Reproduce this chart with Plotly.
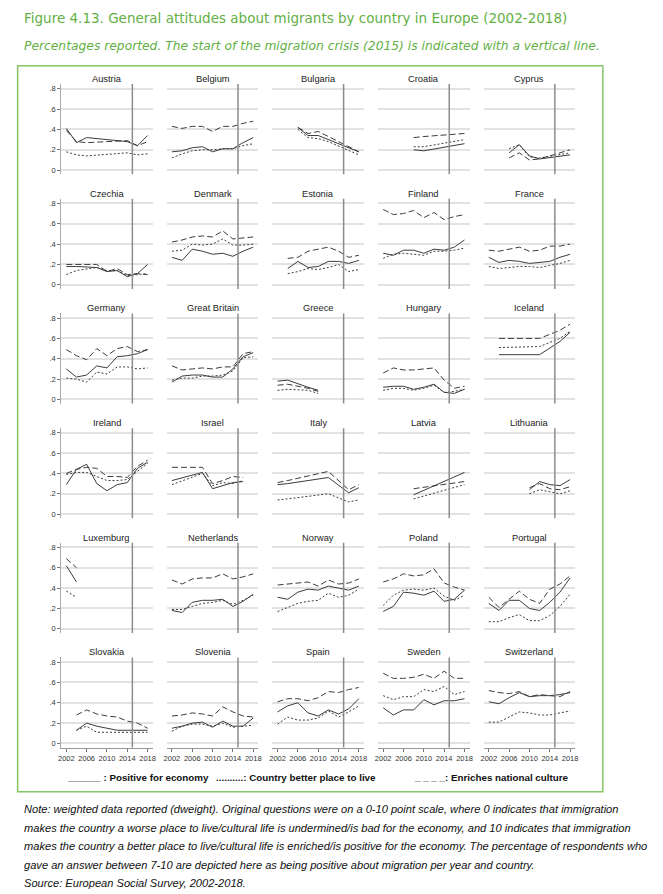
import plotly.graph_objects as go

# The page body has an 8px margin, so the figure is placed 8px in from the top-left.
OFF = 8
FW, FH = 663 - OFF, 894 - OFF

countries = ["Austria", "Belgium", "Bulgaria", "Croatia", "Cyprus",
             "Czechia", "Denmark", "Estonia", "Finland", "France",
             "Germany", "Great Britain", "Greece", "Hungary", "Iceland",
             "Ireland", "Israel", "Italy", "Latvia", "Lithuania",
             "Luxemburg", "Netherlands", "Norway", "Poland", "Portugal",
             "Slovakia", "Slovenia", "Spain", "Sweden", "Switzerland"]

ALL = [2002, 2004, 2006, 2008, 2010, 2012, 2014, 2016, 2018]

years = {
    "Austria": [2002, 2004, 2006, 2014, 2016, 2018],
    "Bulgaria": [2006, 2008, 2010, 2012, 2018],
    "Croatia": [2008, 2010, 2018],
    "Cyprus": [2006, 2008, 2010, 2012, 2018],
    "Czechia": [2002, 2004, 2008, 2010, 2012, 2014, 2016, 2018],
    "Estonia": [2004, 2006, 2008, 2010, 2012, 2014, 2016, 2018],
    "Greece": [2002, 2004, 2008, 2010],
    "Iceland": [2004, 2012, 2016, 2018],
    "Israel": [2002, 2008, 2010, 2012, 2014, 2016],
    "Italy": [2002, 2004, 2012, 2016, 2018],
    "Latvia": [2008, 2018],
    "Lithuania": [2010, 2012, 2014, 2016, 2018],
    "Luxemburg": [2002, 2004],
    "Slovakia": [2004, 2006, 2008, 2010, 2012, 2014, 2016, 2018],
}

# Positive for economy (solid)
economy = {
    "Austria": [.41, .27, .32, .28, .24, .34],
    "Belgium": [.18, .19, .22, .23, .18, .21, .21, .27, .32],
    "Bulgaria": [.42, .34, .34, .30, .18],
    "Croatia": [.20, .19, .26],
    "Cyprus": [.17, .25, .14, .11, .15],
    "Czechia": [.18, .18, .17, .13, .14, .08, .11, .20],
    "Denmark": [.27, .24, .35, .33, .30, .31, .28, .33, .37],
    "Estonia": [.16, .23, .17, .18, .23, .23, .21, .24],
    "Finland": [.31, .29, .34, .34, .31, .35, .34, .37, .44],
    "France": [.27, .22, .24, .23, .21, .22, .23, .27, .30],
    "Germany": [.30, .22, .24, .33, .31, .42, .43, .45, .49],
    "Great Britain": [.17, .23, .24, .24, .22, .22, .30, .42, .46],
    "Greece": [.18, .19, .12, .09],
    "Hungary": [.12, .13, .13, .10, .12, .15, .07, .06, .10],
    "Iceland": [.44, .44, .57, .66],
    "Ireland": [.29, .44, .49, .30, .23, .29, .31, .45, .51],
    "Israel": [.33, .41, .25, .28, .31, .32],
    "Italy": [.29, .30, .36, .21, .26],
    "Latvia": [.19, .41],
    "Lithuania": [.24, .32, .29, .28, .34],
    "Luxemburg": [.62, .46],
    "Netherlands": [.18, .16, .26, .28, .28, .29, .22, .27, .34],
    "Norway": [.31, .29, .36, .39, .38, .42, .40, .38, .42],
    "Poland": [.17, .22, .36, .35, .33, .37, .27, .29, .38],
    "Portugal": [.25, .18, .28, .28, .20, .18, .26, .36, .50],
    "Slovakia": [.13, .20, .17, .15, .13, .13, .13, .13],
    "Slovenia": [.15, .17, .20, .21, .16, .22, .17, .17, .25],
    "Spain": [.31, .37, .40, .30, .27, .33, .29, .34, .44],
    "Sweden": [.35, .28, .33, .33, .43, .38, .42, .42, .44],
    "Switzerland": [.41, .39, .45, .50, .46, .47, .47, .48, .50],
}

# Country better place to live (dotted)
better_place = {
    "Austria": [.18, .15, .14, .17, .15, .16],
    "Belgium": [.12, .16, .19, .20, .20, .21, .21, .24, .26],
    "Bulgaria": [.40, .32, .31, .28, .15],
    "Croatia": [.23, .23, .30],
    "Cyprus": [.21, .25, .13, .12, .17],
    "Czechia": [.10, .14, .17, .14, .14, .09, .10, .11],
    "Denmark": [.33, .34, .40, .39, .40, .45, .39, .39, .40],
    "Estonia": [.11, .13, .16, .15, .17, .20, .13, .15],
    "Finland": [.26, .30, .31, .30, .29, .33, .33, .34, .36],
    "France": [.18, .16, .17, .18, .18, .17, .19, .21, .24],
    "Germany": [.21, .20, .17, .27, .25, .32, .32, .30, .31],
    "Great Britain": [.19, .21, .21, .23, .23, .24, .28, .41, .42],
    "Greece": [.09, .10, .09, .06],
    "Hungary": [.09, .11, .11, .09, .11, .14, .07, .08, .10],
    "Iceland": [.51, .52, .60, .67],
    "Ireland": [.39, .41, .41, .37, .33, .33, .34, .42, .50],
    "Israel": [.29, .40, .28, .31, .30, .33],
    "Italy": [.14, .15, .20, .12, .14],
    "Latvia": [.15, .29],
    "Lithuania": [.20, .24, .22, .20, .23],
    "Luxemburg": [.37, .31],
    "Netherlands": [.19, .19, .22, .25, .26, .28, .24, .28, .33],
    "Norway": [.17, .21, .25, .27, .28, .35, .31, .33, .39],
    "Poland": [.23, .33, .38, .39, .38, .40, .32, .28, .33],
    "Portugal": [.07, .07, .11, .14, .08, .08, .13, .22, .34],
    "Slovakia": [.13, .17, .11, .11, .11, .11, .11, .11],
    "Slovenia": [.12, .17, .19, .19, .17, .20, .16, .17, .18],
    "Spain": [.19, .26, .23, .23, .25, .32, .26, .31, .37],
    "Sweden": [.47, .43, .46, .46, .53, .51, .56, .48, .51],
    "Switzerland": [.21, .21, .26, .31, .30, .28, .28, .30, .32],
}

# Enriches national culture (long dash)
culture = {
    "Austria": [.39, .28, .27, .29, .24, .28],
    "Belgium": [.43, .41, .43, .43, .38, .43, .43, .46, .48],
    "Bulgaria": [.42, .36, .38, .33, .18],
    "Croatia": [.32, .33, .36],
    "Cyprus": [.12, .17, .10, .11, .20],
    "Czechia": [.20, .20, .20, .13, .16, .10, .11, .10],
    "Denmark": [.42, .44, .47, .48, .47, .53, .45, .46, .47],
    "Estonia": [.26, .27, .33, .35, .37, .33, .27, .29],
    "Finland": [.74, .69, .70, .73, .66, .71, .64, .67, .69],
    "France": [.34, .33, .35, .37, .33, .34, .38, .38, .40],
    "Germany": [.49, .43, .39, .50, .43, .50, .52, .47, .49],
    "Great Britain": [.33, .29, .30, .31, .30, .32, .32, .45, .47],
    "Greece": [.14, .15, .11, .08],
    "Hungary": [.26, .31, .29, .29, .30, .31, .19, .11, .13],
    "Iceland": [.60, .60, .68, .74],
    "Ireland": [.40, .44, .46, .45, .37, .37, .36, .47, .53],
    "Israel": [.46, .46, .30, .33, .37, .36],
    "Italy": [.31, .33, .42, .24, .29],
    "Latvia": [.25, .32],
    "Lithuania": [.26, .30, .25, .24, .27],
    "Luxemburg": [.69, .60],
    "Netherlands": [.48, .44, .49, .50, .50, .54, .49, .51, .54],
    "Norway": [.43, .44, .45, .46, .42, .48, .44, .45, .49],
    "Poland": [.46, .49, .54, .52, .53, .59, .45, .41, .38],
    "Portugal": [.31, .21, .29, .37, .29, .25, .39, .44, .52],
    "Slovakia": [.28, .33, .29, .27, .26, .22, .20, .15],
    "Slovenia": [.27, .28, .30, .29, .27, .36, .31, .27, .26],
    "Spain": [.41, .44, .44, .42, .45, .51, .50, .53, .55],
    "Sweden": [.69, .64, .64, .65, .68, .64, .71, .64, .64],
    "Switzerland": [.52, .50, .49, .51, .46, .48, .47, .46, .51],
}

x_ticks = [2002, 2006, 2010, 2014, 2018]
y_ticks = [0, .2, .4, .6, .8]
y_ticktext = ["0", ".2", ".4", ".6", ".8"]
crisis_year = 2015

title = "Figure 4.13. General attitudes about migrants by country in Europe (2002-2018)"
subtitle = "Percentages reported. The start of the migration crisis (2015) is indicated with a vertical line."
note_lines = [
    "Note: weighted data reported (dweight). Original questions were on a 0-10 point scale, where 0 indicates that immigration",
    "makes the country a worse place to live/cultural life is undermined/is bad for the economy, and 10 indicates that immigration",
    "makes the country a better place to live/cultural life is enriched/is positive for the economy. The percentage of respondents who",
    "gave an answer between 7-10 are depicted here as being positive about migration per year and country.",
    "Source: European Social Survey, 2002-2018.",
]
legend_items = ["______ : Positive for economy", "..........: Country better place to live", "_ _ _ _: Enriches national culture"]

GREEN = "#62b044"
LINE = "#3c3c3c"

fig = go.Figure()
layout = dict(
    width=FW, height=FH, margin=dict(l=0, r=0, t=0, b=0),
    paper_bgcolor="white", plot_bgcolor="white", showlegend=False,
    font=dict(family="Liberation Sans, Arial", color="#222"),
)
shapes = []
annotations = []


def px_x(p):
    return (p - OFF) / FW


def px_y(p):
    return 1 - (p - OFF) / FH


for k, name in enumerate(countries):
    r, c = divmod(k, 5)
    left = 58.7 + 106.6 * c
    right = left + 92.3
    top = 84.2 + 114.8 * r
    bot = top + 90.2
    ax = "" if k == 0 else str(k + 1)
    xs = years.get(name, ALL)
    for vals, dash in ((culture, "6px,3px"), (better_place, "2px,2px"), (economy, "solid")):
        fig.add_trace(go.Scatter(
            x=xs, y=vals[name], mode="lines", xaxis="x" + ax, yaxis="y" + ax,
            line=dict(color=LINE, width=1, dash=dash), hoverinfo="skip"))
    bottom_row = r == 5
    first_col = c == 0
    layout["xaxis" + ax] = dict(
        domain=[px_x(left), px_x(right)], range=[2001, 2019], anchor="y" + ax,
        showgrid=False, zeroline=False, tickvals=x_ticks, tickangle=0,
        showticklabels=bottom_row, ticks="outside" if bottom_row else "",
        ticklen=3, tickcolor="#777", showline=bottom_row, linecolor="#999", linewidth=1,
        tickfont=dict(size=7.5, color="#333"), fixedrange=True,
    )
    layout["yaxis" + ax] = dict(
        domain=[px_y(bot), px_y(top)], range=[-0.04, 0.845], anchor="x" + ax,
        showgrid=True, gridcolor="#e2e2e2", gridwidth=1.5, zeroline=False,
        tickvals=y_ticks, ticktext=y_ticktext, showticklabels=first_col,
        ticks="outside" if first_col else "", ticklen=3, tickcolor="#777",
        showline=first_col, linecolor="#aaa", linewidth=1,
        tickfont=dict(size=7.5, color="#333"), fixedrange=True,
    )
    shapes.append(dict(type="line", xref="x" + ax, yref="y" + ax + " domain",
                       x0=crisis_year, x1=crisis_year, y0=0, y1=1,
                       line=dict(color="#8c8c8c", width=1.5)))
    annotations.append(dict(text=name, xref="paper", yref="paper",
                            x=px_x((left + right) / 2), y=px_y(top - 5),
                            xanchor="center", yanchor="middle", showarrow=False,
                            font=dict(size=9.3, color="#222")))

# green frame
shapes.append(dict(type="rect", xref="paper", yref="paper",
                   x0=px_x(14.7), x1=px_x(605.3), y0=px_y(792.7), y1=px_y(65.7),
                   line=dict(color="#86c566", width=1.5)))

annotations.append(dict(text=title, xref="paper", yref="paper", x=px_x(19), y=px_y(18),
                        xanchor="left", yanchor="middle", showarrow=False,
                        font=dict(family="DejaVu Sans", size=13.5, color=GREEN)))
annotations.append(dict(text="<i>" + subtitle + "</i>", xref="paper", yref="paper",
                        x=px_x(19), y=px_y(46), xanchor="left", yanchor="middle", showarrow=False,
                        font=dict(family="DejaVu Sans", size=12.3, color=GREEN)))

for txt, xpos in zip(legend_items, [62, 213, 413]):
    annotations.append(dict(text="<b>" + txt + "</b>", xref="paper", yref="paper",
                            x=px_x(xpos), y=px_y(778), xanchor="left", yanchor="middle",
                            showarrow=False, font=dict(size=9.8, color="#111")))

for i, line in enumerate(note_lines):
    annotations.append(dict(text="<i>" + line + "</i>", xref="paper", yref="paper",
                            x=px_x(19), y=px_y(810 + 18.5 * i), xanchor="left", yanchor="middle",
                            showarrow=False, font=dict(size=11.1, color="#111")))

layout["shapes"] = shapes
layout["annotations"] = annotations
fig.update_layout(**layout)
fig.write_html("out.html")
